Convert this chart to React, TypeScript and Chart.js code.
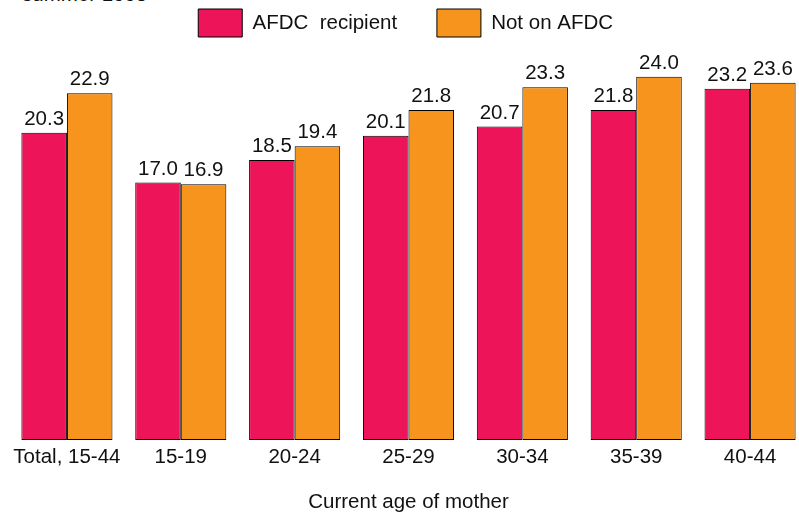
import React, { useEffect, useRef } from "react";
import { Chart, registerables } from "chart.js";

Chart.register(...registerables);

const categories = ["Total, 15-44", "15-19", "20-24", "25-29", "30-34", "35-39", "40-44"];
const afdcValues = [20.3, 17.0, 18.5, 20.1, 20.7, 21.8, 23.2];
const notAfdcValues = [22.9, 16.9, 19.4, 21.8, 23.3, 24.0, 23.6];
const seriesNames = ["AFDC  recipient", "Not on AFDC"];
const axisTitle = "Current age of mother";
const headerText = "summer 1995";

const FONT = "'Liberation Sans', Arial, Helvetica, sans-serif";
const FS = 20.5;
const RED = "#ee1459";
const ORANGE = "#f7941e";
const TEXT = "#111111";

const valueLabels = {
  id: "valueLabels",
  afterDatasetsDraw(chart: any) {
    const ctx = chart.ctx;
    ctx.save();
    ctx.font = `${FS}px ${FONT}`;
    ctx.fillStyle = TEXT;
    ctx.textAlign = "center";
    ctx.textBaseline = "alphabetic";
    chart.data.datasets.forEach((ds: any, i: number) => {
      const meta = chart.getDatasetMeta(i);
      meta.data.forEach((el: any, j: number) => {
        ctx.fillText(Number(ds.data[j]).toFixed(1), el.x, el.y - 8);
      });
    });
    ctx.restore();
  },
};

export default function App() {
  const ref = useRef<HTMLCanvasElement | null>(null);

  useEffect(() => {
    if (!ref.current) return;
    const chart = new Chart(ref.current, {
      type: "bar",
      data: {
        labels: categories,
        datasets: [
          {
            label: seriesNames[0],
            data: afdcValues,
            backgroundColor: RED,
            borderColor: "#000000",
            borderWidth: 1,
            borderSkipped: false,
          },
          {
            label: seriesNames[1],
            data: notAfdcValues,
            backgroundColor: ORANGE,
            borderColor: "#000000",
            borderWidth: 1,
            borderSkipped: false,
          },
        ],
      },
      options: {
        responsive: false,
        animation: false,
        devicePixelRatio: 1,
        layout: { padding: { left: 10, right: 3, top: 0, bottom: 0 } },
        datasets: {
          bar: { categoryPercentage: 0.8, barPercentage: 1 },
        },
        plugins: {
          tooltip: { enabled: false },
          legend: {
            position: "top",
            labels: {
              boxWidth: 44,
              boxHeight: 28,
              padding: 9,
              color: TEXT,
              font: { size: FS, family: FONT },
              generateLabels: (c: any) => {
                const items = (Chart.defaults.plugins.legend.labels as any).generateLabels(c);
                items[0].text = items[0].text + "\u2002\u2002\u2002";
                items[1].text = items[1].text + " ";
                return items;
              },
            },
          },
        },
        scales: {
          x: {
            grid: { display: false },
            border: { display: false },
            ticks: { color: TEXT, font: { size: FS, family: FONT }, padding: -3 },
            title: {
              display: true,
              text: axisTitle,
              color: TEXT,
              font: { size: FS, family: FONT, lineHeight: 0.95 },
              padding: { top: 26, bottom: 0 },
            },
          },
          y: {
            display: false,
            min: 0,
            max: 25.96,
          },
        },
      },
      plugins: [valueLabels],
    });
    return () => chart.destroy();
  }, []);

  return (
    <div
      style={{
        position: "fixed",
        left: 0,
        top: 0,
        width: 799,
        height: 512,
        overflow: "hidden",
        background: "#ffffff",
      }}
    >
      <div
        style={{
          position: "absolute",
          left: 22,
          top: -16,
          fontFamily: FONT,
          fontSize: FS,
          lineHeight: `${FS}px`,
          color: TEXT,
          whiteSpace: "nowrap",
        }}
      >
        {headerText}
      </div>
      <canvas ref={ref} width={810} height={512} style={{ position: "absolute", left: 0, top: 0 }} />
    </div>
  );
}
